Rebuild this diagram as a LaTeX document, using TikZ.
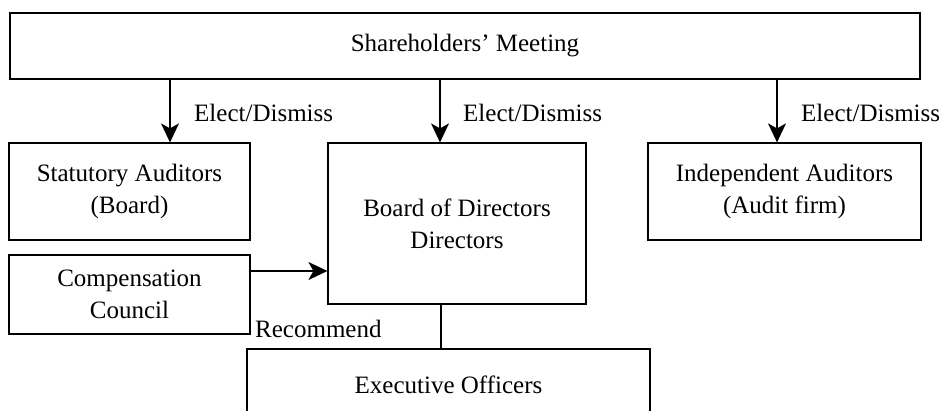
\documentclass[tikz,border=0pt]{standalone}
\usepackage{fontspec}
\setmainfont{Liberation Serif}
\usetikzlibrary{arrows.meta}
\begin{document}
\begin{tikzpicture}[x=1pt,y=-1pt,
  box/.style={draw,line width=1.2pt,rectangle,inner sep=0pt,align=center,
    font=\fontsize{25}{32}\selectfont},
  lbl/.style={inner sep=0pt,anchor=west,font=\fontsize{25}{32}\selectfont},
  arr/.style={line width=1.2pt,-{Stealth[length=19pt,width=18pt,inset=5pt]}},
  ln/.style={line width=1.2pt}]
\useasboundingbox (0,0) rectangle (950,410);
\node[box,minimum width=910pt,minimum height=66pt] (sh) at (465,46) {Shareholders’ Meeting};
\node[box,minimum width=241pt,minimum height=97pt] (sa) at (129.5,191.5) {Statutory Auditors\\(Board)};
\node[box,minimum width=258pt,minimum height=161pt] (bd) at (457,223.5) {Board of Directors\\Directors};
\node[box,minimum width=273pt,minimum height=97pt] (ia) at (784.5,191.5) {Independent Auditors\\(Audit firm)};
\node[box,minimum width=241pt,minimum height=79pt] (cc) at (129.5,294.5) {Compensation\\Council};
\node[box,minimum width=403pt,minimum height=72pt] (ex) at (448.5,385) {Executive Officers};
\coordinate (a1) at (170,0);
\coordinate (a2) at (440,0);
\coordinate (a3) at (777,0);
\coordinate (a4) at (441,0);
\coordinate (r1) at (0,271);
\draw[arr] (sh.south -| a1) -- (sa.north -| a1);
\draw[arr] (sh.south -| a2) -- (bd.north -| a2);
\draw[arr] (sh.south -| a3) -- (ia.north -| a3);
\draw[arr] (cc.east |- r1) -- (bd.west |- r1);
\draw[ln] (bd.south -| a4) -- (ex.north -| a4);
\node[lbl] (l1) at (194,113) {Elect/Dismiss};
\node[lbl] (l2) at (463,113) {Elect/Dismiss};
\node[lbl] (l3) at (801,113) {Elect/Dismiss};
\node[lbl] (l4) at (255,329) {Recommend};
\end{tikzpicture}
\end{document}
